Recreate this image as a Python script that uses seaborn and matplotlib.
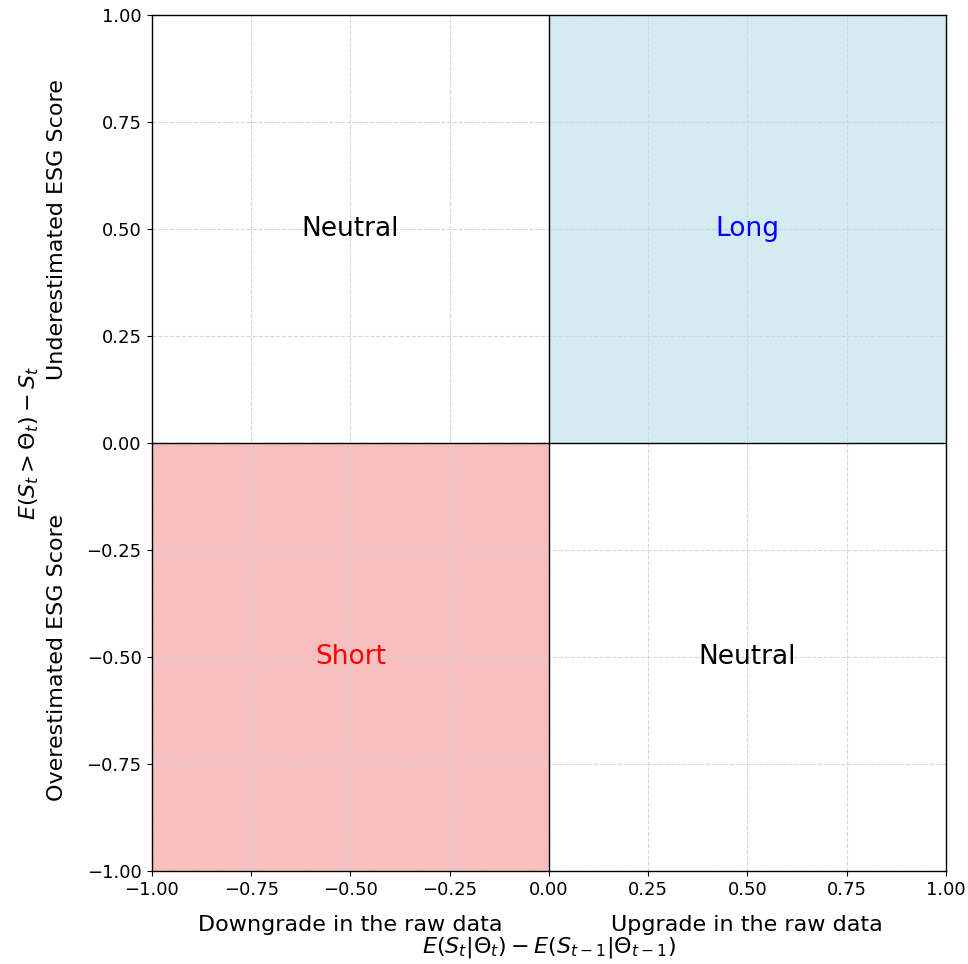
import numpy as np
import matplotlib
matplotlib.use('Agg')
import matplotlib.pyplot as plt
import seaborn as sns

# quadrant data
quad_x0 = [-1, 0, -1, 0]
quad_y0 = [0, 0, -1, -1]
quad_label = ['Neutral', 'Long', 'Short', 'Neutral']
quad_text_color = ['black', 'blue', 'red', 'black']
quad_fill = [None, 'lightblue', 'lightcoral', None]

ticks = np.arange(-1, 1.01, 0.25)

sns.set_style('ticks')
plt.rcParams['axes.axisbelow'] = 'line'
plt.rcParams['font.family'] = ['DejaVu Sans']
plt.rcParams['text.color'] = 'black'
plt.rcParams['xtick.color'] = 'black'
plt.rcParams['ytick.color'] = 'black'
plt.rcParams['axes.labelcolor'] = 'black'

fig, ax = plt.subplots(figsize=(9.68, 9.64), dpi=100)
fig.subplots_adjust(left=0.157, right=0.977, top=0.984, bottom=0.0965)

for x0, y0, lab, tc, fc in zip(quad_x0, quad_y0, quad_label, quad_text_color, quad_fill):
    if fc is not None:
        ax.fill_between([x0, x0 + 1], y0, y0 + 1, color=fc, alpha=0.5, linewidth=0)
    ax.text(x0 + 0.5, y0 + 0.5, lab, color=tc, fontsize=19, ha='center', va='center')

ax.axhline(0, color='black', linewidth=1)
ax.axvline(0, color='black', linewidth=1)

ax.set_xlim(-1, 1)
ax.set_ylim(-1, 1)
ax.set_xticks(ticks)
ax.set_yticks(ticks)
fmt = matplotlib.ticker.FuncFormatter(lambda v, p: f'{v:.2f}'.replace('-', '\u2212'))
ax.xaxis.set_major_formatter(fmt)
ax.yaxis.set_major_formatter(fmt)
ax.tick_params(labelsize=13, pad=4)
ax.grid(True, linestyle='--', color='lightgray', alpha=0.9)
for s in ax.spines.values():
    s.set_color('black')
    s.set_linewidth(1)

# axis texts
ax.text(-0.5, -1.126, 'Downgrade in the raw data', fontsize=16, ha='center', va='center')
ax.text(0.5, -1.126, 'Upgrade in the raw data', fontsize=16, ha='center', va='center')
ax.text(0, -1.178, r'$E(S_t|\Theta_t) - E(S_{t-1}|\Theta_{t-1})$', fontsize=16, ha='center', va='center')
ax.text(-1.24, 0.5, 'Underestimated ESG Score', fontsize=16, rotation=90, ha='center', va='center')
ax.text(-1.24, -0.5, 'Overestimated ESG Score', fontsize=16, rotation=90, ha='center', va='center')
ax.text(-1.31, 0, r'$E(S_t > \Theta_t) - S_t$', fontsize=16, rotation=90, ha='center', va='center')

fig.savefig('out.png', dpi=100)
